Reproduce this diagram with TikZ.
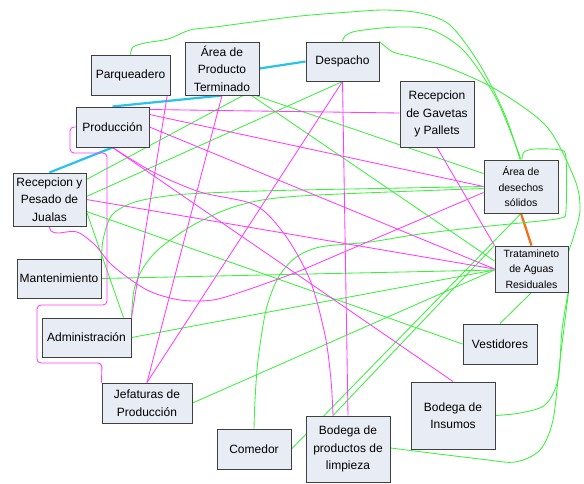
\documentclass[tikz,border=0pt]{standalone}
\usepackage{fontspec}
\setmainfont{Liberation Sans}
\usetikzlibrary{positioning,calc,backgrounds}
\definecolor{boxfill}{RGB}{232,236,245}
\definecolor{lgreen}{RGB}{60,240,60}
\definecolor{lpink}{RGB}{255,60,255}
\definecolor{lcyan}{RGB}{40,195,235}
\definecolor{lorange}{RGB}{240,110,20}

\begin{document}
\begin{tikzpicture}[
    x=1pt, y=-1pt,
    area/.style={rectangle, draw=black!75, line width=1pt, fill=boxfill, align=center, inner sep=0pt, font=\fontsize{12}{17.5}\selectfont},
    smallarea/.style={area, font=\fontsize{10.5}{15.5}\selectfont},
    link/.style={line width=0.85pt},
    greenlink/.style={link, draw=lgreen},
    pinklink/.style={link, draw=lpink},
    cyanlink/.style={line width=2.2pt, draw=lcyan},
    orangelink/.style={line width=2.2pt, draw=lorange}
]
\useasboundingbox (0,0) rectangle (584,483);

% Areas
\node[area, minimum width=79pt, minimum height=40pt] (parq) at (130.5,75) {Parqueadero};
\node[area, minimum width=74pt, minimum height=53pt] (apt) at (222,68.5) {Área de\\Producto\\Terminado};
\node[area, minimum width=73pt, minimum height=39pt] (desp) at (342.5,61.5) {Despacho};
\node[area, minimum width=74pt, minimum height=66pt] (gav) at (437,114) {Recepcion\\de Gavetas\\y Pallets};
\node[area, minimum width=73pt, minimum height=40pt] (prod) at (112.5,127) {Producción};
\node[area, minimum width=73pt, minimum height=53pt] (recep) at (49.5,199.5) {Recepcion y\\Pesado de\\Jualas};
\node[area, minimum width=84pt, minimum height=39pt] (mant) at (59,278.5) {Mantenimiento};
\node[area, minimum width=89pt, minimum height=39pt] (admin) at (86.5,337.5) {Administración};
\node[area, minimum width=90pt, minimum height=40pt] (jef) at (147,403) {Jefaturas de\\Producción};
\node[area, minimum width=74pt, minimum height=40pt] (com) at (254,449) {Comedor};
\node[area, minimum width=84pt, minimum height=66pt] (limp) at (348,449) {Bodega de\\productos de\\limpieza};
\node[area, minimum width=84pt, minimum height=67pt] (ins) at (453,415.5) {Bodega de\\Insumos};
\node[area, minimum width=74pt, minimum height=40pt] (vest) at (500,344) {Vestidores};
\node[smallarea, minimum width=74pt, minimum height=53pt] (des) at (521,186.5) {Área de\\desechos\\sólidos};
\node[smallarea, minimum width=73pt, minimum height=46pt] (trat) at (531.5,269) {Tratamineto\\de Aguas\\Residuales};

% Connectors
\begin{scope}[on background layer]
\fill[white] (0,0) rectangle (584,483);

% strong links
\draw[cyanlink] (apt.south) -- (prod.north);
\draw[cyanlink] (apt.east) -- (desp.west);
\draw[cyanlink] (prod.south) -- (recep.north);
\draw[orangelink] (des.south) -- (trat.north);

% green links
\draw[greenlink] plot[smooth] coordinates {(parq.north) (133,47) (145,43) (168,39) (190,30) (215,27) (260,21) (300,16) (350,12) (385,10) (420,13) (450,25) (480,65) (505,115) ($(des.north)+(-1,0)$)};
\draw[greenlink] plot[smooth] coordinates {(desp.north) (345,36) (357,31) (397,27) (432,30) (465,52) (497,100) (des.north)};
\draw[greenlink] plot[smooth] coordinates {(desp.north east) (393,52) (413,57) (447,67) (497,90) (547,127) (575,180) (580,210) (574,235) ($(trat.east)+(0,-17)$)};
\draw[greenlink] plot[smooth] coordinates {($(des.north)+(1,0)$) (524,152) (535,149) (560,150) (566,158) (566,210) (561,218) (530,222) (480,227) (420,234) (370,242) (320,247) (295,258) (278,278) (266,310) (258,360) (255,400) (com.north)};
\draw[greenlink] ($(recep.north east)+(0,7)$) -- ($(apt.south)+(21,0)$);
\draw[greenlink] ($(recep.east)+(0,-3)$) -- (desp.south);
\draw[greenlink] ($(recep.east)+(0,12)$) -- (vest.west);
\draw[greenlink] ($(recep.east)+(0,12)$) -- ($(admin.north east)+(-8,0)$);
\draw[greenlink] ($(apt.south east)+(-8,0)$) -- ($(trat.west)+(0,-8)$);
\draw[greenlink] ($(apt.south east)+(-4,0)$) -- ($(des.west)+(0,-13)$);
\draw[greenlink] plot[smooth] coordinates {($(mant.north east)+(0,4)$) (103,240) (112,215) (135,202) (175,195) (230,192) (300,190) (des.west)};
\draw[greenlink] plot[smooth] coordinates {(admin.north east) (134,290) (143,268) (160,248) (195,224) (240,205) (300,196) ($(des.west)+(0,2)$)};
\draw[greenlink] (mant.east) -- ($(trat.west)+(0,1)$);
\draw[greenlink] (admin.east) -- ($(trat.west)+(0,1)$);
\draw[greenlink] (jef.east) -- ($(trat.west)+(0,1)$);
\draw[greenlink] (com.east) -- (des.south);
\draw[greenlink] ($(limp.north)+(-15,0)$) -- (trat.north west);
\draw[greenlink] (trat.south) -- (vest.north);
\draw[greenlink] plot[smooth] coordinates {($(trat.south east)+(0,-2)$) (562,330) (558,380) (545,405) (520,413) (ins.east)};
\draw[greenlink] plot[smooth] coordinates {(trat.south east) (560,360) (553,420) (540,450) (515,462) (480,459) ($(limp.east)+(0,-1)$)};

% pink links
\draw[pinklink] ($(prod.north east)+(0,3)$) -- ($(gav.west)+(0,-1)$);
\draw[pinklink] ($(prod.north east)+(0,8)$) -- (des.west);
\draw[pinklink] (prod.east) -- (trat.west);
\draw[pinklink] (prod.south) -- (ins.north);
\draw[pinklink] plot[smooth] coordinates {(prod.south) (153,172) (200,192) (255,205) (285,235) (310,280) (325,335) (331,380) ($(limp.north)+(-15,0)$)};
\draw[pinklink, rounded corners=4pt] (prod.west) -- (70,127) -- (70,153) -- (107,153) -- (107,305) -- (37,305) -- (37,363) -- (102,363) -- (jef.north west);
\draw[pinklink] (parq.east) -- (admin.north east);
\draw[pinklink] (apt.south) -- (jef.north);
\draw[pinklink] (desp.south) -- (jef.north);
\draw[pinklink] (desp.south) -- (limp.north);
\draw[pinklink] (gav.south) -- (trat.north west);
\draw[pinklink] (recep.east) -- (trat.west);
\draw[pinklink] plot[smooth] coordinates {(recep.south) (51,231) (58,233) (77,232) (95,245) (113,266) (147,290) (180,300) (213,300) (247,290) (297,272) (330,258) ($(des.west)+(0,6)$)};
\end{scope}
\end{tikzpicture}
\end{document}
